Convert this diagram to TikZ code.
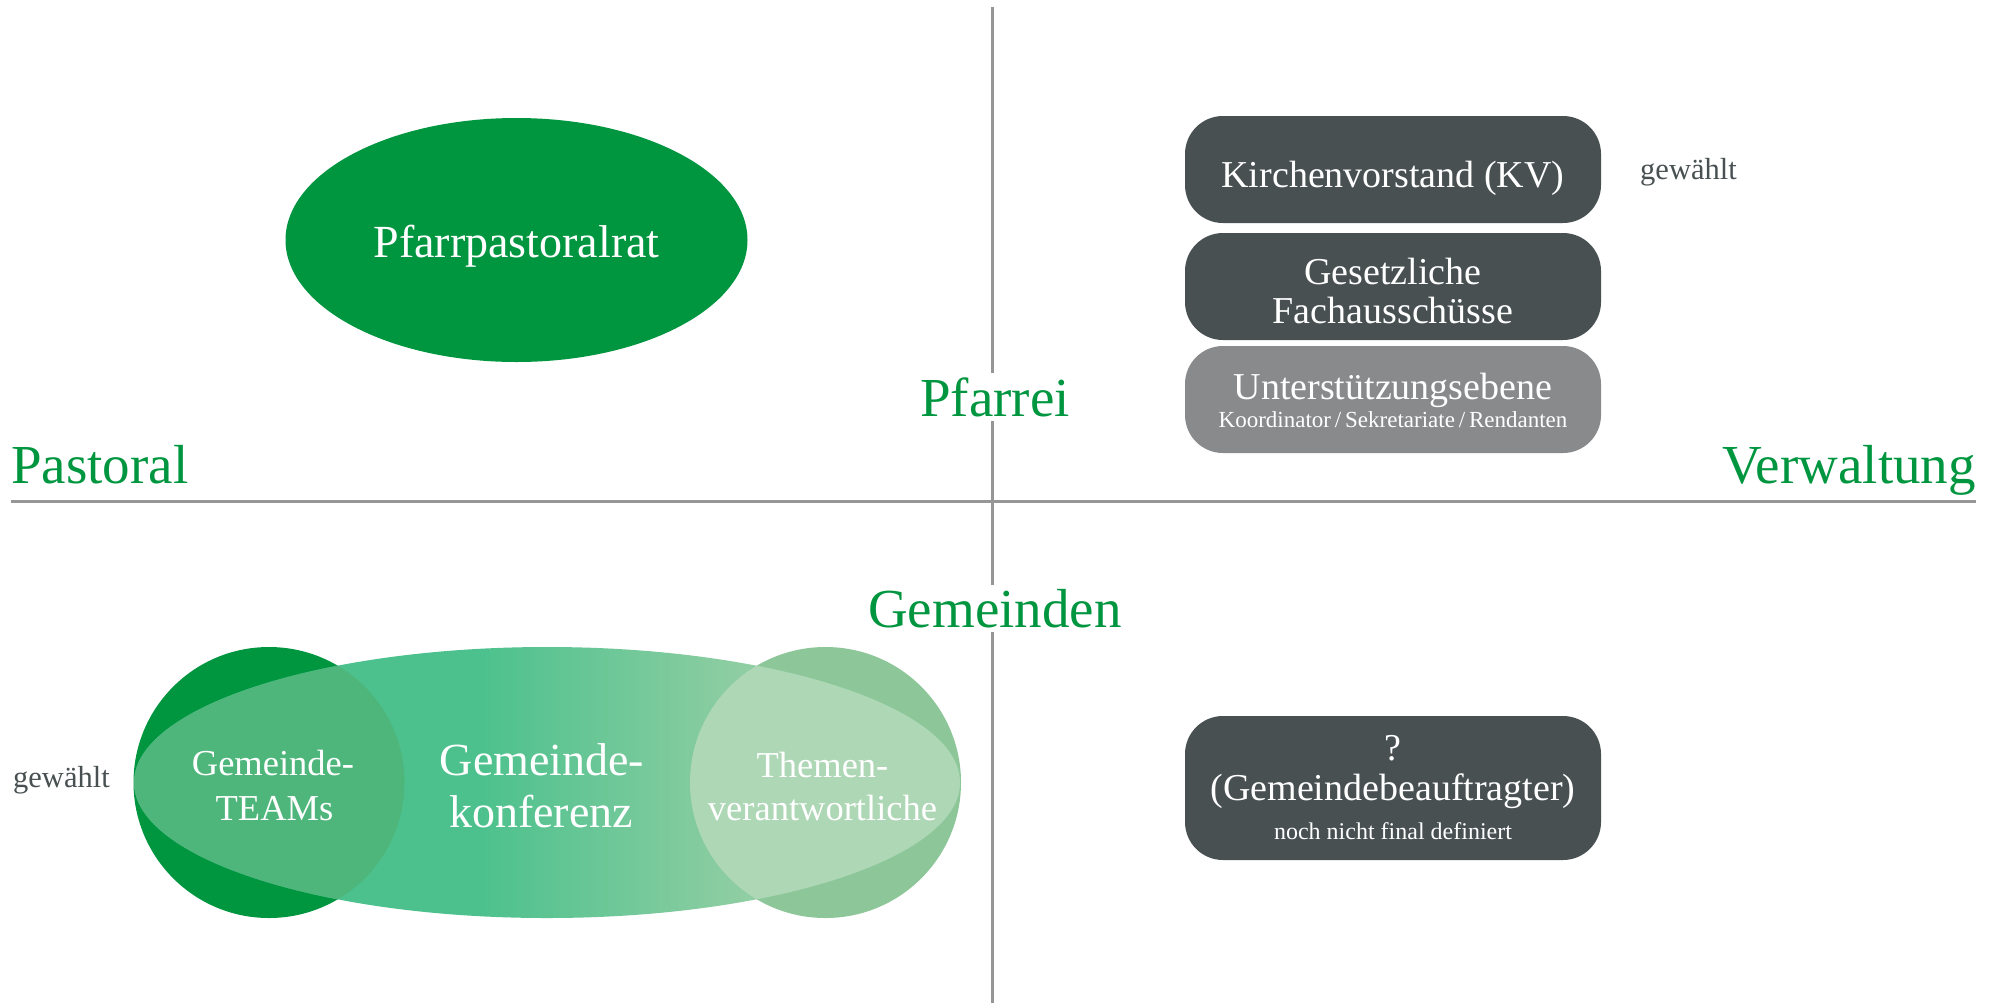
\documentclass[tikz,border=0pt]{standalone}
\usepackage{fontspec}
\setmainfont{Liberation Serif}
\usetikzlibrary{shapes.geometric}
\definecolor{pgreen}{RGB}{0,150,64}
\definecolor{boxdark}{RGB}{72,80,82}
\definecolor{boxgray}{RGB}{137,138,140}
\definecolor{axisgray}{RGB}{150,150,150}
\definecolor{ellA}{RGB}{76,193,141}
\definecolor{ellB}{RGB}{145,206,163}
\definecolor{circR}{RGB}{141,199,153}
\definecolor{ovL}{RGB}{79,182,123}
\definecolor{ovR}{RGB}{174,215,182}
\pgfdeclarehorizontalshading{konfshade}{100bp}{color(0bp)=(ellA); color(45.9bp)=(ellA); color(62.3bp)=(ellB); color(100bp)=(ellB)}
\begin{document}
\begin{tikzpicture}[x=1pt,y=-1pt,
  fs/.style={font=\fontsize{#1}{#1}\selectfont},
  axisline/.style={draw=axisgray, line width=3pt},
  head/.style={fs=55, text=pgreen, inner sep=0pt, anchor=base},
  gap/.style={fill=white, inner xsep=0pt, inner ysep=4pt},
  rbox/.style={rectangle, rounded corners=38pt, minimum width=416pt, inner sep=0pt, draw=none},
  wtxt/.style={text=white, inner sep=0pt, anchor=base},
  note/.style={fs=30.5, text=boxdark, inner sep=0pt, anchor=base west},
  disc/.style={circle, minimum size=271pt, inner sep=0pt, draw=none}
]
\useasboundingbox (0,0) rectangle (2000,1005);
\fill[white] (0,0) rectangle (2000,1005);

% axes
\coordinate (vtop) at (992,7);
\coordinate (vbot) at (992,1003);
\coordinate (hleft) at (11,501);
\coordinate (hright) at (1976,501);
\draw[axisline] (vtop) -- (vbot);
\draw[axisline] (hleft) -- (hright);

% quadrant labels
\node[head, gap] (pfarrei) at (995,416) {Pfarrei};
\node[head, gap] (gemeinden) at (995,627) {Gemeinden};
\node[head, anchor=base west] (pastoral) at (11,483) {Pastoral};
\node[head, anchor=base east] (verwaltung) at (1976,483) {Verwaltung};

% Pfarrpastoralrat
\node[ellipse, fill=pgreen, minimum width=462pt, minimum height=244pt, inner sep=0pt] (ppr) at (516.5,240) {};
\node[wtxt, fs=46] (pprtext) at (516.5,257) {Pfarrpastoralrat};

% right boxes
\node[rbox, fill=boxdark, minimum height=107pt] (kv) at (1393,169.5) {};
\node[rbox, fill=boxdark, minimum height=107pt] (gf) at (1393,286.5) {};
\node[rbox, fill=boxgray, minimum height=107pt] (ue) at (1393,399.5) {};
\node[rbox, fill=boxdark, minimum height=144pt] (gb) at (1393,788) {};

\node[wtxt, fs=38] (kvtext) at (1393,187.5) {Kirchenvorstand (KV)};
\node[wtxt, fs=38] (gftextA) at (1393,284) {Gesetzliche};
\node[wtxt, fs=38] (gftextB) at (1393,323) {Fachausschüsse};
\node[wtxt, fs=38] (uetextA) at (1393,399) {Unterstützungsebene};
\node[wtxt, fs=23] (uetextB) at (1393,427) {Koordinator\,/\,Sekretariate\,/\,Rendanten};
\node[wtxt, fs=38] (gbtextA) at (1393,760) {?};
\node[wtxt, fs=38] (gbtextB) at (1393,800) {(Gemeindebeauftragter)};
\node[wtxt, fs=24] (gbtextC) at (1393,839) {noch nicht final definiert};

\node[note] (gewR) at (1640,179) {gewählt};
\node[note] (gewL) at (13,787) {gewählt};

% Gemeinden cluster
\node[disc, fill=pgreen] (teams) at (269,782.5) {};
\node[disc, fill=circR] (themen) at (825.5,782.5) {};
\node[ellipse, shade, shading=konfshade, minimum width=826pt, minimum height=271pt, inner sep=0pt, draw=none] (konf) at (547,782.5) {};
\begin{scope}
  \clip (teams.center) circle [radius=135.5pt];
  \fill[ovL] (konf.center) ellipse [x radius=413pt, y radius=135.5pt];
\end{scope}
\begin{scope}
  \clip (themen.center) circle [radius=135.5pt];
  \fill[ovR] (konf.center) ellipse [x radius=413pt, y radius=135.5pt];
\end{scope}

\node[wtxt, fs=36.5] (teamsA) at (273,775) {Gemeinde-};
\node[wtxt, fs=36.5] (teamsB) at (274.5,820) {TEAMs};
\node[wtxt, fs=46] (konfA) at (542,775) {Gemeinde-};
\node[wtxt, fs=46] (konfB) at (541,827) {konferenz};
\node[wtxt, fs=36.5] (themenA) at (822.5,777) {Themen-};
\node[wtxt, fs=36.5] (themenB) at (822.5,820) {verantwortliche};
\end{tikzpicture}
\end{document}
